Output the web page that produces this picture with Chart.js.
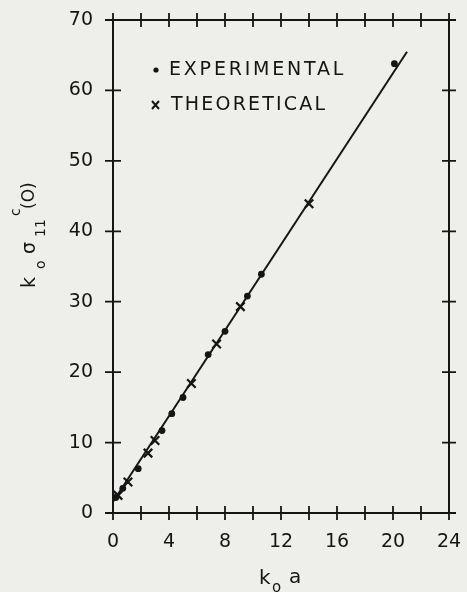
<!DOCTYPE html>
<html>
<head>
<meta charset="utf-8">
<script src="https://cdn.jsdelivr.net/npm/chart.js@4.4.1/dist/chart.umd.min.js"></script>
<style>
  html, body { margin: 0; padding: 0; background: #eeeeeb; }
  canvas { display: block; }
</style>
</head>
<body>
<canvas id="chart" width="467" height="592"></canvas>
<script>
// values
const experimental = [
  { x: 0.2, y: 2.2 }, { x: 0.7, y: 3.5 }, { x: 1.8, y: 6.3 }, { x: 3.5, y: 11.7 },
  { x: 4.2, y: 14.1 }, { x: 5.0, y: 16.4 }, { x: 6.8, y: 22.5 }, { x: 8.0, y: 25.8 },
  { x: 9.6, y: 30.8 }, { x: 10.6, y: 33.9 }, { x: 20.1, y: 63.8 },
];
const theoretical = [
  { x: 0.36, y: 2.5 }, { x: 1.07, y: 4.4 }, { x: 2.5, y: 8.5 }, { x: 3.0, y: 10.3 },
  { x: 5.6, y: 18.4 }, { x: 7.4, y: 24.0 }, { x: 9.1, y: 29.3 }, { x: 14.0, y: 43.9 },
];
const fitLine = [{ x: 0, y: 1.6 }, { x: 21, y: 65.5 }];
const xLabels = [0, 4, 8, 12, 16, 20, 24];
const legendLabels = ["EXPERIMENTAL", "THEORETICAL"];

const ink = "#151515";
const font = "DejaVu Sans";

// box round the plot with ticks that cross the frame on all four sides
const frameTicks = {
  id: "frameTicks",
  afterDatasetsDraw(chart) {
    const { ctx, chartArea: a, scales: { x, y } } = chart;
    ctx.save();
    ctx.strokeStyle = ink;
    ctx.lineWidth = 2;
    ctx.strokeRect(a.left, a.top, a.right - a.left, a.bottom - a.top);
    ctx.lineWidth = 1.8;
    ctx.beginPath();
    x.ticks.forEach((t) => {
      const px = x.getPixelForValue(t.value);
      ctx.moveTo(px, a.bottom - 7); ctx.lineTo(px, a.bottom + 7);
      ctx.moveTo(px, a.top - 7); ctx.lineTo(px, a.top + 7);
    });
    y.ticks.forEach((t) => {
      const py = y.getPixelForValue(t.value);
      ctx.moveTo(a.left - 8, py); ctx.lineTo(a.left + 8, py);
      ctx.moveTo(a.right - 7, py); ctx.lineTo(a.right + 7, py);
    });
    ctx.stroke();
    ctx.restore();
  },
};

// legend inside the plot and the two axis titles with sub/superscripts
const labels = {
  id: "labels",
  afterDraw(chart) {
    const { ctx, chartArea: a } = chart;
    ctx.save();
    ctx.fillStyle = ink;
    ctx.strokeStyle = ink;

    // legend
    ctx.font = `19px "${font}"`;
    ctx.textBaseline = "middle";
    ctx.letterSpacing = "2.8px";
    ctx.fillText(legendLabels[0], a.left + 56, 70);
    ctx.letterSpacing = "2.2px";
    ctx.fillText(legendLabels[1], a.left + 58, 105);
    ctx.letterSpacing = "0px";
    ctx.beginPath();
    ctx.arc(a.left + 43, 70, 2.6, 0, Math.PI * 2);
    ctx.fill();
    ctx.lineWidth = 2;
    ctx.beginPath();
    ctx.moveTo(a.left + 39, 101); ctx.lineTo(a.left + 46, 109);
    ctx.moveTo(a.left + 46, 101); ctx.lineTo(a.left + 39, 109);
    ctx.stroke();

    // x title: k0a
    ctx.textBaseline = "alphabetic";
    ctx.font = `20px "${font}"`;
    ctx.fillText("k", 259, 584);
    ctx.font = `15px "${font}"`;
    ctx.fillText("o", 272, 592);
    ctx.font = `20px "${font}"`;
    ctx.fillText("a", 289, 583);

    // y title: k0 sigma11 c (0), rotated
    ctx.translate(35, 290);
    ctx.rotate(-Math.PI / 2);
    ctx.font = `19px "${font}"`;
    ctx.fillText("k", 2, 0);
    ctx.font = `14px "${font}"`;
    ctx.fillText("o", 21, 10);
    ctx.font = `19px "${font}"`;
    ctx.fillText("σ", 36, 0);
    ctx.font = `14px "${font}"`;
    ctx.fillText("11", 53, 10);
    ctx.fillText("c", 74, -15);
    ctx.font = `17px "${font}"`;
    ctx.fillText("(O)", 81, -1);
    ctx.restore();
  },
};

new Chart(document.getElementById("chart"), {
  type: "scatter",
  data: {
    datasets: [
      {
        label: "fit",
        data: fitLine,
        showLine: true,
        borderColor: ink,
        borderWidth: 2,
        pointRadius: 0,
      },
      {
        label: legendLabels[0],
        data: experimental,
        pointStyle: "circle",
        pointRadius: 3.4,
        backgroundColor: ink,
        borderColor: ink,
        borderWidth: 0,
      },
      {
        label: legendLabels[1],
        data: theoretical,
        pointStyle: "crossRot",
        pointRadius: 6,
        borderColor: ink,
        borderWidth: 2.2,
      },
    ],
  },
  options: {
    responsive: false,
    animation: false,
    layout: { padding: { top: 20, right: 18, left: 0, bottom: 0 } },
    plugins: {
      legend: { display: false },
      tooltip: { enabled: false },
    },
    scales: {
      x: {
        type: "linear",
        min: 0,
        max: 24,
        grid: { display: false, drawTicks: false },
        border: { display: false },
        ticks: {
          stepSize: 2,
          autoSkip: false,
          maxRotation: 0,
          padding: 18,
          color: ink,
          font: { family: font, size: 19 },
          callback: (v) => (xLabels.includes(v) ? String(v) : ""),
        },
        afterFit: (scale) => {
          scale.height = 79;
          scale.paddingLeft = 0;
          scale.paddingRight = 0;
        },
      },
      y: {
        type: "linear",
        min: 0,
        max: 70,
        grid: { display: false, drawTicks: false },
        border: { display: false },
        ticks: {
          stepSize: 10,
          padding: 20,
          color: ink,
          font: { family: font, size: 19 },
        },
        afterFit: (scale) => {
          scale.width = 113;
          scale.paddingTop = 0;
          scale.paddingBottom = 0;
        },
      },
    },
  },
  plugins: [frameTicks, labels],
});
</script>
</body>
</html>
